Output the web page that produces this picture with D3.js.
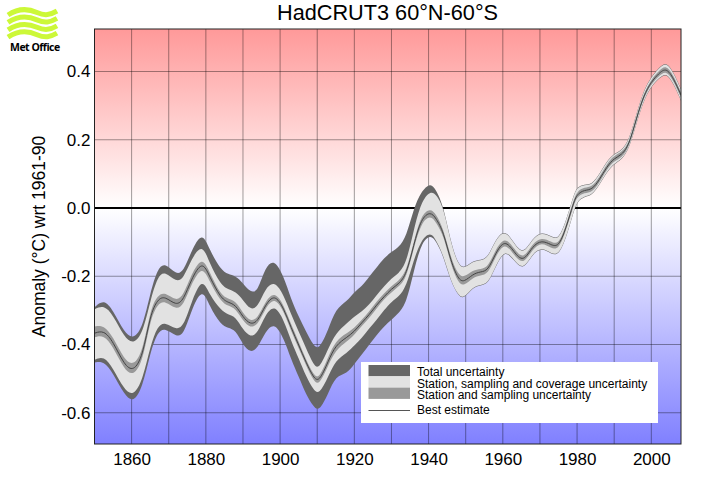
<!DOCTYPE html>
<html>
<head>
<meta charset="utf-8">
<script src="https://cdn.jsdelivr.net/npm/d3@7"></script>
<style>
  html, body { margin: 0; padding: 0; background: #fff; }
  svg { display: block; font-family: "Liberation Sans", sans-serif; }
</style>
</head>
<body>
<div id="chart"></div>
<script>
//Datos
const years = [1850,1852.5,1855,1858,1860.5,1863,1865,1867,1869,1872,1874,1876,1879,1881,1884,1886,1888,1890,1892,1894,1896,1898.5,1901,1903,1905,1907,1909,1910.5,1913,1915,1918,1920,1922,1924,1926,1928,1930,1932,1934,1936,1938,1940.5,1942,1944,1946,1948,1949.5,1952,1954,1956,1958,1960.5,1963,1965.5,1968,1970.5,1973,1975,1977,1979,1980,1982,1984,1986,1988,1990,1992,1994,1996,1998,2000,2002,2004,2006,2008]
const best = [-.367,-.358,-.391,-.46,-.48,-.435,-.313,-.267,-.258,-.287,-.269,-.211,-.152,-.201,-.264,-.277,-.283,-.32,-.342,-.333,-.284,-.251,-.294,-.352,-.401,-.453,-.497,-.511,-.448,-.401,-.379,-.362,-.336,-.313,-.284,-.26,-.237,-.222,-.196,-.108,-.03,-.01,-.03,-.069,-.157,-.209,-.218,-.193,-.187,-.184,-.133,-.091,-.128,-.161,-.111,-.094,-.108,-.115,-.06,.014,.041,.053,.053,.082,.121,.146,.155,.184,.263,.331,.37,.394,.412,.38,.331]
const samplingHigh = [-.347,-.343,-.377,-.445,-.463,-.42,-.299,-.255,-.246,-.274,-.255,-.196,-.14,-.188,-.255,-.266,-.272,-.308,-.333,-.323,-.274,-.243,-.284,-.342,-.391,-.445,-.489,-.502,-.435,-.388,-.367,-.352,-.328,-.303,-.274,-.25,-.228,-.213,-.186,-.099,-.02,0,-.018,-.06,-.147,-.196,-.204,-.181,-.179,-.174,-.123,-.083,-.118,-.153,-.103,-.086,-.099,-.108,-.052,.022,.049,.061,.061,.09,.129,.154,.163,.191,.27,.338,.377,.402,.42,.388,.339]
const samplingLow = [-.379,-.372,-.406,-.474,-.493,-.45,-.328,-.281,-.271,-.299,-.284,-.225,-.167,-.215,-.274,-.287,-.294,-.331,-.352,-.343,-.294,-.26,-.303,-.362,-.411,-.462,-.506,-.521,-.46,-.416,-.391,-.372,-.345,-.323,-.294,-.267,-.247,-.23,-.206,-.118,-.043,-.021,-.042,-.079,-.167,-.22,-.229,-.203,-.197,-.194,-.143,-.099,-.138,-.168,-.12,-.1,-.118,-.123,-.068,.006,.033,.045,.045,.074,.113,.138,.147,.177,.256,.324,.363,.386,.404,.372,.323]
const coverageHigh = [-.297,-.284,-.313,-.379,-.4,-.367,-.274,-.2,-.185,-.218,-.206,-.152,-.102,-.162,-.225,-.238,-.245,-.269,-.299,-.291,-.235,-.213,-.255,-.313,-.362,-.411,-.46,-.474,-.411,-.367,-.338,-.318,-.303,-.284,-.255,-.23,-.206,-.191,-.162,-.064,.019,.05,.04,.004,-.104,-.167,-.179,-.155,-.154,-.147,-.094,-.063,-.103,-.139,-.089,-.071,-.084,-.094,-.04,.034,.061,.068,.068,.097,.136,.158,.167,.197,.275,.345,.383,.409,.428,.396,.347]
const coverageLow = [-.445,-.433,-.469,-.533,-.552,-.503,-.406,-.345,-.334,-.357,-.347,-.279,-.201,-.255,-.299,-.313,-.318,-.357,-.379,-.367,-.313,-.282,-.328,-.391,-.44,-.494,-.533,-.548,-.494,-.445,-.425,-.403,-.382,-.352,-.328,-.299,-.274,-.26,-.23,-.152,-.094,-.07,-.094,-.138,-.216,-.255,-.266,-.23,-.225,-.222,-.172,-.12,-.152,-.183,-.133,-.115,-.133,-.138,-.089,-.012,.02,.035,.038,.068,.106,.131,.143,.173,.25,.318,.357,.38,.398,.365,.316]
const totalHigh = [-.291,-.267,-.299,-.365,-.385,-.349,-.25,-.177,-.16,-.196,-.186,-.128,-.067,-.123,-.181,-.194,-.199,-.22,-.248,-.245,-.172,-.15,-.201,-.269,-.318,-.362,-.404,-.415,-.357,-.294,-.274,-.245,-.23,-.201,-.174,-.147,-.128,-.115,-.084,-.001,.048,.075,.053,.007,-.1025,-.1655,-.1775,-.1535,-.1525,-.1455,-.0925,-.0615,-.1015,-.1375,-.0875,-.0695,-.0825,-.0925,-.0385,.0355,.0625,.0695,.0695,.0985,.1375,.1595,.1685,.1985,.2765,.3465,.3845,.4105,.4295,.3975,.3485]
const totalLow = [-.453,-.448,-.484,-.547,-.572,-.523,-.425,-.362,-.351,-.377,-.372,-.303,-.231,-.289,-.342,-.352,-.357,-.401,-.425,-.411,-.362,-.335,-.382,-.445,-.494,-.547,-.582,-.597,-.543,-.491,-.486,-.457,-.43,-.401,-.372,-.347,-.328,-.308,-.279,-.186,-.103,-.078,-.097,-.141,-.2175,-.2565,-.2675,-.2315,-.2265,-.2235,-.1735,-.1215,-.1535,-.1845,-.1345,-.1165,-.1345,-.1395,-.0905,-.0135,.0185,.0335,.0365,.0665,.1045,.1295,.1415,.1715,.2485,.3165,.3555,.3785,.3965,.3635,.3145]

const yearTicks = [1860,1880,1900,1920,1940,1960,1980,2000]
const yearGrid = [1860,1870,1880,1890,1900,1910,1920,1930,1940,1950,1960,1970,1980,1990,2000]
const anomalyTicks = [0.4,0.2,0.0,-0.2,-0.4,-0.6]
const legendLabels = ['Total uncertainty','Station, sampling and coverage uncertainty','Station and sampling uncertainty','Best estimate']

//Constantes de la aplicación
const width = 708
const height = 504
const plot = { left: 94.5, right: 681, top: 29, bottom: 444 }
const colorTotal = '#666666'
const colorCoverage = '#e2e2e2'
const colorSampling = '#999999'

const svg = d3.select('#chart')
    .append('svg')
    .attr('width', width)
    .attr('height', height)

//Escalas
const scaleX = d3.scaleLinear().domain([1850, 2008]).range([plot.left, plot.right])
const scaleY = d3.scaleLinear().domain([0, 0.4]).range([208, 71.5])
const yTop = scaleY.invert(plot.top)
const yBottom = scaleY.invert(plot.bottom)

//Fondo con degradado rojo - blanco - azul
const gradient = svg.append('defs')
    .append('linearGradient')
    .attr('id', 'background')
    .attr('x1', 0).attr('y1', 0).attr('x2', 0).attr('y2', 1)
const zeroStop = (yTop / (yTop - yBottom)) * 100
gradient.append('stop').attr('offset', '0%').attr('stop-color', '#ff9999')
gradient.append('stop').attr('offset', `${zeroStop}%`).attr('stop-color', '#ffffff')
gradient.append('stop').attr('offset', '100%').attr('stop-color', '#8080ff')

svg.append('rect')
    .attr('x', plot.left)
    .attr('y', plot.top)
    .attr('width', plot.right - plot.left)
    .attr('height', plot.bottom - plot.top)
    .attr('fill', 'url(#background)')

//Rejilla
const gridX = d3.axisBottom(scaleX)
    .tickValues(yearGrid)
    .tickSize(-(plot.bottom - plot.top))
    .tickFormat('')
    .offset(0)
const gridY = d3.axisLeft(scaleY)
    .tickValues(anomalyTicks)
    .tickSize(-(plot.right - plot.left))
    .tickFormat('')
    .offset(0)
const groupGrid = svg.append('g').attr('class', 'grid')
groupGrid.append('g').attr('transform', `translate(0, ${plot.bottom})`).call(gridX)
groupGrid.append('g').attr('transform', `translate(${plot.left}, 0)`).call(gridY)
groupGrid.selectAll('.domain').remove()
groupGrid.selectAll('line')
    .attr('stroke', '#000')
    .attr('stroke-opacity', 0.38)
    .attr('stroke-width', 1)

//Linea del cero, las bandas la tapan
svg.append('line')
    .attr('x1', plot.left)
    .attr('x2', plot.right)
    .attr('y1', scaleY(0))
    .attr('y2', scaleY(0))
    .attr('stroke', '#000')
    .attr('stroke-width', 2)

//Bandas de incertidumbre
svg.append('clipPath').attr('id', 'plotClip')
    .append('rect')
    .attr('x', plot.left)
    .attr('y', plot.top)
    .attr('width', plot.right - plot.left)
    .attr('height', plot.bottom - plot.top)

const groupBands = svg.append('g').attr('clip-path', 'url(#plotClip)')
const drawBand = (high, low, color) => {
    const area = d3.area()
        .x((d, i) => scaleX(years[i]))
        .y0((d, i) => scaleY(low[i]))
        .y1((d, i) => scaleY(high[i]))
        .curve(d3.curveBasis)
    groupBands.append('path')
        .attr('d', area(years))
        .attr('fill', color)
}
drawBand(totalHigh, totalLow, colorTotal)
drawBand(coverageHigh, coverageLow, colorCoverage)
drawBand(samplingHigh, samplingLow, colorSampling)

const lineBest = d3.line()
    .x((d, i) => scaleX(years[i]))
    .y(d => scaleY(d))
    .curve(d3.curveBasis)

groupBands.append('path')
    .attr('d', lineBest(best))
    .attr('fill', 'none')
    .attr('stroke', '#444')
    .attr('stroke-width', 1)

//Marco
svg.append('rect')
    .attr('x', plot.left)
    .attr('y', plot.top)
    .attr('width', plot.right - plot.left)
    .attr('height', plot.bottom - plot.top)
    .attr('fill', 'none')
    .attr('stroke', '#222')
    .attr('stroke-width', 1)

//Ejes
const axisX = d3.axisBottom(scaleX)
    .tickValues(yearTicks)
    .tickSize(0)
    .tickPadding(9)
    .tickFormat(d3.format('d'))
const axisY = d3.axisLeft(scaleY)
    .tickValues(anomalyTicks)
    .tickSize(0)
    .tickPadding(4)
    .tickFormat(d => d.toFixed(1))
const groupX = svg.append('g').attr('transform', `translate(0, ${plot.bottom})`).call(axisX)
const groupY = svg.append('g').attr('transform', `translate(${plot.left}, 0)`).call(axisY)
groupX.select('.domain').remove()
groupY.select('.domain').remove()
svg.selectAll('.tick text')
    .attr('font-family', '"Liberation Sans", sans-serif')
    .attr('font-size', 17)
    .attr('fill', '#000')

//Titulos
svg.append('text')
    .attr('x', 387.5)
    .attr('y', 20)
    .attr('text-anchor', 'middle')
    .attr('font-size', 21.7)
    .text('HadCRUT3 60°N-60°S')

svg.append('text')
    .attr('transform', 'translate(45, 236.5) rotate(-90)')
    .attr('text-anchor', 'middle')
    .attr('font-size', 17.5)
    .text('Anomaly (°C) wrt 1961-90')

//Leyenda
const legend = svg.append('g').attr('class', 'legend')
legend.append('rect')
    .attr('x', 361)
    .attr('y', 362)
    .attr('width', 297)
    .attr('height', 61)
    .attr('fill', '#fff')

const swatches = [colorTotal, colorCoverage, colorSampling]
legend.selectAll('.swatch')
    .data(swatches)
    .enter()
    .append('rect')
    .attr('class', 'swatch')
    .attr('x', 368.5)
    .attr('y', (d, i) => 365 + i * 11.3)
    .attr('width', 41.5)
    .attr('height', 11.3)
    .attr('fill', d => d)

legend.append('line')
    .attr('x1', 368.5)
    .attr('x2', 410)
    .attr('y1', 410.5)
    .attr('y2', 410.5)
    .attr('stroke', '#555')
    .attr('stroke-width', 1)

const legendBaseline = [376, 387.5, 399, 414]
legend.selectAll('.label')
    .data(legendLabels)
    .enter()
    .append('text')
    .attr('class', 'label')
    .attr('x', 417)
    .attr('y', (d, i) => legendBaseline[i])
    .attr('font-size', 12)
    .text(d => d)

//Logo Met Office
const logo = svg.append('g').attr('class', 'logo')
const waveOffsets = [0, 7.4, 14.8, 22.2]
logo.selectAll('path')
    .data(waveOffsets)
    .enter()
    .append('path')
    .attr('d', d => `M8 ${15 + d} C17 ${9 + d}, 27 ${8 + d}, 37 ${12.5 + d} C45 ${16 + d}, 50 ${15 + d}, 57 ${11 + d}`)
    .attr('fill', 'none')
    .attr('stroke', '#ccf838')
    .attr('stroke-width', 5)

logo.append('text')
    .attr('x', 10)
    .attr('y', 51)
    .attr('font-family', '"Open Sans", sans-serif')
    .attr('font-size', 10.5)
    .attr('font-weight', 'bold')
    .attr('letter-spacing', -0.5)
    .text('Met Office')
</script>
</body>
</html>
